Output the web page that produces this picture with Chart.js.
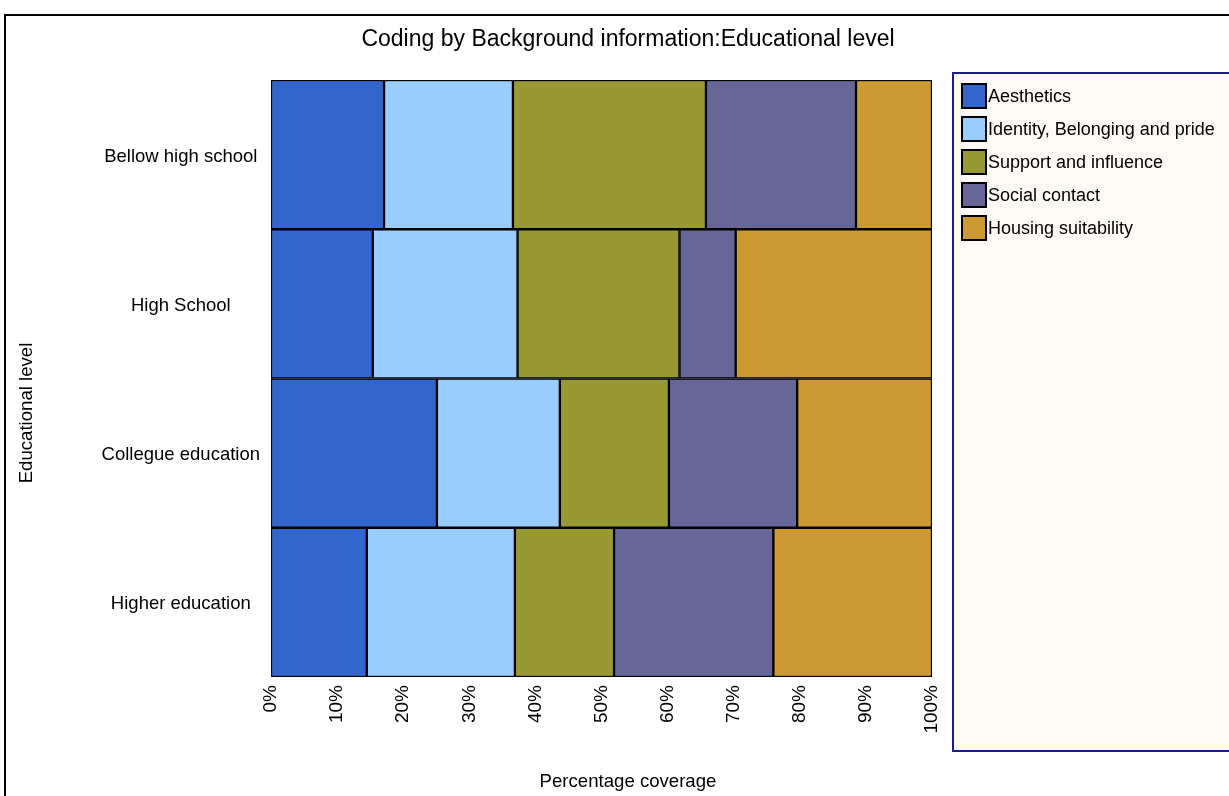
<!DOCTYPE html>
<html>
<head>
<meta charset="utf-8">
<script src="https://cdn.jsdelivr.net/npm/chart.js@4"></script>
<style>
  html, body { margin: 0; padding: 0; background: #fff; }
  #wrap { width: 1229px; height: 796px; position: relative; }
</style>
</head>
<body>
<div id="wrap"><canvas id="myChart" width="1229" height="796"></canvas></div>
<script>
// categories (top to bottom)
const levels = ['Bellow high school', 'High School', 'Collegue education', 'Higher education']

// percentage coverage per code
const aesthetics = [17.1, 15.4, 25.1, 14.5]
const identity   = [19.5, 21.9, 18.6, 22.4]
const support    = [29.2, 24.5, 16.5, 15.0]
const social     = [22.7, 8.5, 19.4, 24.1]
const housing    = [11.5, 29.7, 20.4, 24.0]

const seriesNames = ['Aesthetics', 'Identity, Belonging and pride', 'Support and influence', 'Social contact', 'Housing suitability']
const seriesColors = ['#3366CC', '#99CCFF', '#999933', '#666699', '#CC9933']
const xTicks = [0, 10, 20, 30, 40, 50, 60, 70, 80, 90, 100]

const FONT = "'Liberation Sans', Arial, sans-serif"
Chart.defaults.font.family = FONT
Chart.defaults.color = '#000'

const seriesData = [aesthetics, identity, support, social, housing]

// frame, title, axis titles and the boxed legend
const decor = {
    id: 'decor',
    beforeDraw(chart) {
        const c = chart.ctx
        c.save()
        c.fillStyle = '#fff'
        c.fillRect(0, 0, chart.width, chart.height)
        c.restore()
    },
    afterDraw(chart) {
        const c = chart.ctx
        c.save()
        // outer frame
        c.strokeStyle = '#000'
        c.lineWidth = 2
        c.strokeRect(5, 15, 1240, 800)

        // title
        c.fillStyle = '#000'
        c.font = '23px ' + FONT
        c.textAlign = 'center'
        c.textBaseline = 'middle'
        c.fillText('Coding by Background information:Educational level', 628, 40)

        // axis titles
        c.font = '18.6px ' + FONT
        c.fillText('Percentage coverage', 628, 782)
        c.save()
        c.translate(27, 413)
        c.rotate(-Math.PI / 2)
        c.fillText('Educational level', 0, 0)
        c.restore()

        // legend box
        c.fillStyle = '#FDF9F5'
        c.fillRect(953, 73, 290, 678)
        c.strokeStyle = '#1C1C8C'
        c.lineWidth = 2
        c.strokeRect(953, 73, 290, 678)

        c.textAlign = 'left'
        c.font = '18px ' + FONT
        chart.data.datasets.forEach((ds, i) => {
            const y = 84 + i * 33
            c.fillStyle = ds.backgroundColor
            c.fillRect(962, y, 24, 24)
            c.strokeStyle = '#000'
            c.lineWidth = 2
            c.strokeRect(962, y, 24, 24)
            c.fillStyle = '#000'
            c.fillText(ds.label, 988, y + 13)
        })
        c.restore()
    }
}

const ctx = document.getElementById('myChart')
new Chart(ctx, {
    type: 'bar',
    data: {
        labels: levels,
        datasets: seriesNames.map((name, i) => ({
            label: name,
            data: seriesData[i],
            backgroundColor: seriesColors[i],
            borderColor: '#000',
            borderWidth: 1.5,
            borderSkipped: false,
            barPercentage: 1,
            categoryPercentage: 1
        }))
    },
    options: {
        indexAxis: 'y',
        responsive: false,
        animation: false,
        layout: { padding: { top: 80, right: 297, left: 0, bottom: 0 } },
        plugins: {
            legend: { display: false },
            title: { display: false },
            tooltip: { enabled: false }
        },
        scales: {
            x: {
                stacked: true,
                min: 0,
                max: 100,
                afterBuildTicks: (scale) => { scale.ticks = xTicks.map(v => ({ value: v })) },
                afterFit: (scale) => { scale.height = 119 },
                grid: { display: false, drawTicks: false },
                border: { display: false },
                ticks: {
                    minRotation: 90,
                    maxRotation: 90,
                    padding: 8,
                    font: { size: 19 },
                    callback: v => v + '%'
                }
            },
            y: {
                stacked: true,
                afterFit: (scale) => { scale.width = 271 },
                grid: { display: false, drawTicks: false },
                border: { display: false },
                ticks: {
                    crossAlign: 'center',
                    padding: 11,
                    labelOffset: 2,
                    font: { size: 18.5 }
                }
            }
        }
    },
    plugins: [decor]
})
</script>
</body>
</html>
